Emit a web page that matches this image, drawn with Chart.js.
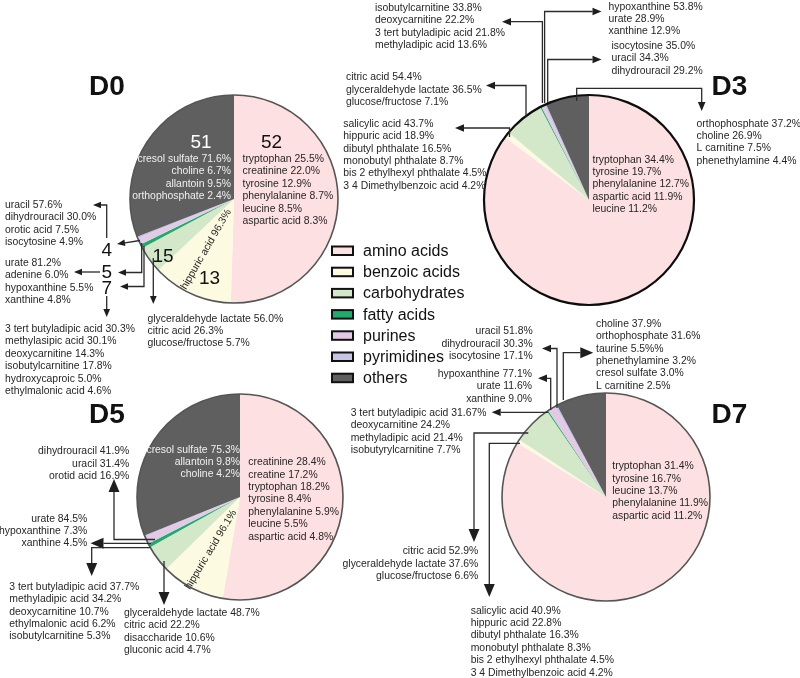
<!DOCTYPE html>
<html lang="en">
<head>
<meta charset="UTF-8">
<title>Metabolite classes D0 - D7</title>
<script src="https://cdn.jsdelivr.net/npm/chart.js"></script>
<style>
  html, body { margin: 0; padding: 0; background: #fff; }
  #wrap { position: relative; width: 800px; height: 678px; overflow: hidden; }
  #wrap canvas { position: absolute; left: 0; top: 0; }
</style>
</head>
<body>
<div id="wrap">
  <canvas id="cD0" width="800" height="678"></canvas>
  <canvas id="cD3" width="800" height="678"></canvas>
  <canvas id="cD5" width="800" height="678"></canvas>
  <canvas id="cD7" width="800" height="678"></canvas>
</div>

<script>
// ---- data ----
const groups = ['amino acids', 'benzoic acids', 'carbohydrates', 'fatty acids', 'purines', 'pyrimidines', 'others'];
const groupColors = ['#fde0e1', '#fcfae1', '#d3e8c9', '#1fab6c', '#e3c9e5', '#c7c5e6', '#5f5f5f'];
const days = ['D0', 'D3', 'D5', 'D7'];

// share of each class per day (%)
const shareD0 = [50.5, 12.5, 4.2, 0.6, 1.0, 0.3, 30.9];
const shareD3 = [85.2, 0.9, 6.2, 0.2, 0.5, 0.3, 6.7];
const shareD5 = [52.7, 10.0, 4.2, 0.6, 1.2, 0.2, 31.1];
const shareD7 = [83.7, 0.6, 6.1, 0.2, 1.3, 0.3, 7.8];

// number of compounds per class at D0
const countsD0 = [52, 13, 15, 7, 5, 4, 51];

// compound breakdowns
const d0Amino = ['tryptophan 25.5%', 'creatinine 22.0%', 'tyrosine 12.9%', 'phenylalanine 8.7%', 'leucine 8.5%', 'aspartic acid 8.3%'];
const d0Others = ['cresol sulfate 71.6%', 'choline 6.7%', 'allantoin 9.5%', 'orthophosphate 2.4%'];
const d0Pyr = ['uracil 57.6%', 'dihydrouracil 30.0%', 'orotic acid 7.5%', 'isocytosine 4.9%'];
const d0Pur = ['urate 81.2%', 'adenine 6.0%', 'hypoxanthine 5.5%', 'xanthine 4.8%'];
const d0Fatty = ['3 tert butyladipic acid 30.3%', 'methylasipic acid 30.1%', 'deoxycarnitine 14.3%', 'isobutylcarnitine 17.8%', 'hydroxycaproic 5.0%', 'ethylmalonic acid 4.6%'];
const d0Carbo = ['glyceraldehyde lactate 56.0%', 'citric acid 26.3%', 'glucose/fructose 5.7%'];
const d0Benz = ['hippuric acid 96.3%'];

const d3Amino = ['tryptophan 34.4%', 'tyrosine 19.7%', 'phenylalanine 12.7%', 'aspartic acid 11.9%', 'leucine 11.2%'];
const d3Others = ['orthophosphate 37.2%', 'choline 26.9%', 'L carnitine 7.5%', 'phenethylamine 4.4%'];
const d3Pur = ['hypoxanthine 53.8%', 'urate 28.9%', 'xanthine 12.9%'];
const d3Pyr = ['isocytosine 35.0%', 'uracil 34.3%', 'dihydrouracil 29.2%'];
const d3Fatty = ['isobutylcarnitine 33.8%', 'deoxycarnitine 22.2%', '3 tert butyladipic acid 21.8%', 'methyladipic acid 13.6%'];
const d3Carbo = ['citric acid 54.4%', 'glyceraldehyde lactate 36.5%', 'glucose/fructose 7.1%'];
const d3Benz = ['salicylic acid 43.7%', 'hippuric acid 18.9%', 'dibutyl phthalate 16.5%', 'monobutyl phthalate 8.7%', 'bis 2 ethylhexyl phthalate 4.5%', '3 4 Dimethylbenzoic acid 4.2%'];

const d5Amino = ['creatinine 28.4%', 'creatine 17.2%', 'tryptophan 18.2%', 'tyrosine 8.4%', 'phenylalanine 5.9%', 'leucine 5.5%', 'aspartic acid 4.8%'];
const d5Others = ['cresol sulfate 75.3%', 'allantoin 9.8%', 'choline 4.2%'];
const d5Pyr = ['dihydrouracil 41.9%', 'uracil 31.4%', 'orotid acid 16.9%'];
const d5Pur = ['urate 84.5%', 'hypoxanthine 7.3%', 'xanthine 4.5%'];
const d5Fatty = ['3 tert butyladipic acid 37.7%', 'methyladipic acid 34.2%', 'deoxycarnitine 10.7%', 'ethylmalonic acid 6.2%', 'isobutylcarnitine 5.3%'];
const d5Carbo = ['glyceraldehyde lactate 48.7%', 'citric acid 22.2%', 'disaccharide 10.6%', 'gluconic acid 4.7%'];
const d5Benz = ['hippuric acid 96.1%'];

const d7Amino = ['tryptophan 31.4%', 'tyrosine 16.7%', 'leucine 13.7%', 'phenylalanine 11.9%', 'aspartic acid 11.2%'];
const d7Others = ['choline 37.9%', 'orthophosphate 31.6%', 'taurine 5.5%%', 'phenethylamine 3.2%', 'cresol sulfate 3.0%', 'L carnitine 2.5%'];
const d7Pyr = ['uracil 51.8%', 'dihydrouracil 30.3%', 'isocytosine 17.1%'];
const d7Pur = ['hypoxanthine 77.1%', 'urate 11.6%', 'xanthine 9.0%'];
const d7Fatty = ['3 tert butyladipic acid 31.67%', 'deoxycarnitine 24.2%', 'methyladipic acid 21.4%', 'isobutyrylcarnitine 7.7%'];
const d7Carbo = ['citric acid 52.9%', 'glyceraldehyde lactate 37.6%', 'glucose/fructose 6.6%'];
const d7Benz = ['salicylic acid 40.9%', 'hippuric acid 22.8%', 'dibutyl phthalate 16.3%', 'monobutyl phthalate 8.3%', 'bis 2 ethylhexyl phthalate 4.5%', '3 4 Dimethylbenzoic acid 4.2%'];

// ---- drawing helpers ----
const FONT = "Arial, 'Liberation Sans', Helvetica, sans-serif";
const INK = '#262626';
const SMALL = 10.4, STEP = 12.4;

function drawText(ctx, t) {
  ctx.save();
  ctx.fillStyle = t.color || INK;
  ctx.font = (t.bold ? 'bold ' : '') + (t.size || SMALL) + 'px ' + FONT;
  ctx.textAlign = t.align || 'left';
  ctx.textBaseline = 'alphabetic';
  ctx.translate(t.x, t.y);
  if (t.rot) ctx.rotate(t.rot * Math.PI / 180);
  const lines = Array.isArray(t.text) ? t.text : [t.text];
  lines.forEach((s, i) => ctx.fillText(s, 0, i * (t.step || STEP)));
  ctx.restore();
}

function drawArrow(ctx, pts, head) {
  const n = pts.length;
  const [tx, ty] = pts[n - 1];
  const [px, py] = pts[n - 2];
  const a = Math.atan2(ty - py, tx - px);
  const half = head * 0.42;
  const bx = tx - Math.cos(a) * head, by = ty - Math.sin(a) * head;
  ctx.save();
  ctx.strokeStyle = '#2b2b2b';
  ctx.fillStyle = '#1e1e1e';
  ctx.lineWidth = 1.3;
  ctx.beginPath();
  ctx.moveTo(pts[0][0], pts[0][1]);
  for (let i = 1; i < n - 1; i++) ctx.lineTo(pts[i][0], pts[i][1]);
  ctx.lineTo(bx, by);
  ctx.stroke();
  ctx.beginPath();
  ctx.moveTo(tx, ty);
  ctx.lineTo(bx - Math.sin(a) * half, by + Math.cos(a) * half);
  ctx.lineTo(bx + Math.sin(a) * half, by - Math.cos(a) * half);
  ctx.closePath();
  ctx.fill();
  ctx.restore();
}

function drawLegend(ctx) {
  groups.forEach((g, i) => {
    const y = 256 + i * 21.2;
    ctx.fillStyle = groupColors[i];
    ctx.fillRect(332, y - 9.5, 21, 8.5);
    ctx.strokeStyle = '#111';
    ctx.lineWidth = 2;
    ctx.strokeRect(332, y - 9.5, 21, 8.5);
    drawText(ctx, { text: g, x: 363, y: y, size: 16, color: '#111' });
  });
}

function pieChart(id, share, cx, cy, r, ring, notes, extra) {
  return new Chart(document.getElementById(id), {
    type: 'pie',
    data: {
      labels: groups,
      datasets: [{ data: share, backgroundColor: groupColors, borderWidth: 0 }]
    },
    options: {
      responsive: false,
      animation: false,
      events: [],
      layout: { padding: { left: cx - r, top: cy - r, right: 800 - cx - r, bottom: 678 - cy - r } },
      plugins: { legend: { display: false }, tooltip: { enabled: false } }
    },
    plugins: [{
      id: 'notes',
      afterDatasetsDraw(chart) {
        const ctx = chart.ctx;
        const arc = chart.getDatasetMeta(0).data[0];
        ctx.save();
        ctx.beginPath();
        ctx.arc(arc.x, arc.y, arc.outerRadius, 0, Math.PI * 2);
        ctx.strokeStyle = ring.color;
        ctx.lineWidth = ring.width;
        ctx.stroke();
        ctx.restore();
        notes.forEach(n => n.pts ? drawArrow(ctx, n.pts, n.head || 8) : drawText(ctx, n));
        if (extra) extra(ctx);
      }
    }]
  });
}

// ---- D0 ----
pieChart('cD0', shareD0, 234, 199, 104, { color: '#555', width: 1.6 }, [
  { text: days[0], x: 89, y: 95, size: 28, bold: true, color: '#111' },
  { text: String(countsD0[6]), x: 190.5, y: 148, size: 19, color: '#fff' },
  { text: String(countsD0[0]), x: 261, y: 148, size: 19, color: '#111' },
  { text: String(countsD0[1]), x: 199, y: 284, size: 19, color: '#111' },
  { text: String(countsD0[2]), x: 152.5, y: 261.5, size: 19, color: '#111' },
  { text: String(countsD0[5]), x: 101.5, y: 256, size: 19, color: '#111' },
  { text: String(countsD0[4]), x: 101.5, y: 278, size: 19, color: '#111' },
  { text: String(countsD0[3]), x: 101.5, y: 293.5, size: 19, color: '#111' },
  { text: d0Others, x: 231, y: 162, align: 'right', color: '#f0f0f0' },
  { text: d0Amino, x: 242.5, y: 162 },
  { text: d0Benz, x: 186, y: 290, rot: -60 },
  { text: d0Pyr, x: 5, y: 208 },
  { text: d0Pur, x: 5, y: 266 },
  { text: d0Fatty, x: 5, y: 332 },
  { text: d0Carbo, x: 147.5, y: 321.5 },
  { pts: [[140, 240.5], [117, 244]] },
  { pts: [[106.7, 238], [106.7, 205], [93, 205]] },
  { pts: [[141.7, 243], [141.7, 272.5], [118, 272.5]] },
  { pts: [[100, 272], [74, 272]] },
  { pts: [[144, 246], [144, 286.5], [120, 286.5]] },
  { pts: [[106.7, 296], [106.7, 317]] },
  { pts: [[153.3, 258], [153.3, 304]] }
], drawLegend);

// ---- D3 ----
pieChart('cD3', shareD3, 589, 200, 105, { color: '#0d0d0d', width: 2.2 }, [
  { text: days[1], x: 711.5, y: 95, size: 28, bold: true, color: '#111' },
  { text: d3Amino, x: 592.5, y: 162.5 },
  { text: d3Others, x: 696.5, y: 126.5 },
  { text: d3Pur, x: 608.5, y: 9.5 },
  { text: d3Pyr, x: 611.5, y: 49 },
  { text: d3Fatty, x: 375, y: 10.8 },
  { text: d3Carbo, x: 346, y: 80.2 },
  { text: d3Benz, x: 343.3, y: 126.8 },
  { pts: [[576.7, 101], [576.7, 88.3], [701.7, 88.3], [701.7, 111]], head: 9 },
  { pts: [[547.7, 103], [547.7, 59.5], [601.5, 59.5]], head: 9 },
  { pts: [[544.6, 103], [544.6, 11.5], [601.5, 11.5]], head: 9 },
  { pts: [[542.4, 103], [542.4, 21.7], [502, 21.7]], head: 9 },
  { pts: [[526, 117], [526, 85.5], [486, 85.5]], head: 9 },
  { pts: [[509.5, 137], [509.5, 128], [455, 128]], head: 9 }
]);

// ---- D5 ----
pieChart('cD5', shareD5, 240, 497, 103, { color: '#555', width: 1.6 }, [
  { text: days[2], x: 89, y: 423.3, size: 28, bold: true, color: '#111' },
  { text: d5Others, x: 240, y: 452.5, align: 'right', color: '#f0f0f0' },
  { text: d5Amino, x: 248.3, y: 465.2 },
  { text: d5Benz, x: 190, y: 590, rot: -59 },
  { text: d5Pyr, x: 129.3, y: 454.2, align: 'right' },
  { text: d5Pur, x: 87.3, y: 521.5, align: 'right' },
  { text: d5Fatty, x: 9.3, y: 589.8 },
  { text: d5Carbo, x: 124, y: 615.8 },
  { pts: [[155, 539.5], [114, 539.5], [114, 479]], head: 13 },
  { pts: [[151, 543.3], [90.5, 543.3]], head: 13 },
  { pts: [[150, 547.7], [91.7, 547.7], [91.7, 576]], head: 13 },
  { pts: [[164, 561], [164, 605]], head: 13 }
]);

// ---- D7 ----
pieChart('cD7', shareD7, 606, 497, 104, { color: '#555', width: 1.6 }, [
  { text: days[3], x: 711.5, y: 423.3, size: 28, bold: true, color: '#111' },
  { text: d7Amino, x: 612.3, y: 469.2 },
  { text: d7Others, x: 596, y: 326.8 },
  { text: d7Pyr, x: 532.7, y: 334.2, align: 'right' },
  { text: d7Pur, x: 532, y: 376.8, align: 'right' },
  { text: d7Fatty, x: 350.7, y: 415.8 },
  { text: d7Carbo, x: 478.3, y: 554.2, align: 'right' },
  { text: d7Benz, x: 470.7, y: 613.5 },
  { pts: [[563.3, 400], [563.3, 352.7], [593.3, 352.7]], head: 13 },
  { pts: [[557, 408], [557, 348.5], [542, 348.5]], head: 9 },
  { pts: [[550.7, 410], [550.7, 378.3], [538, 378.3]], head: 9 },
  { pts: [[548.3, 412.3], [491.7, 412.3]], head: 9 },
  { pts: [[528.3, 433], [474, 433], [474, 542]], head: 13 },
  { pts: [[520, 443.3], [489.3, 443.3], [489.3, 597]], head: 13 }
]);
</script>
</body>
</html>
